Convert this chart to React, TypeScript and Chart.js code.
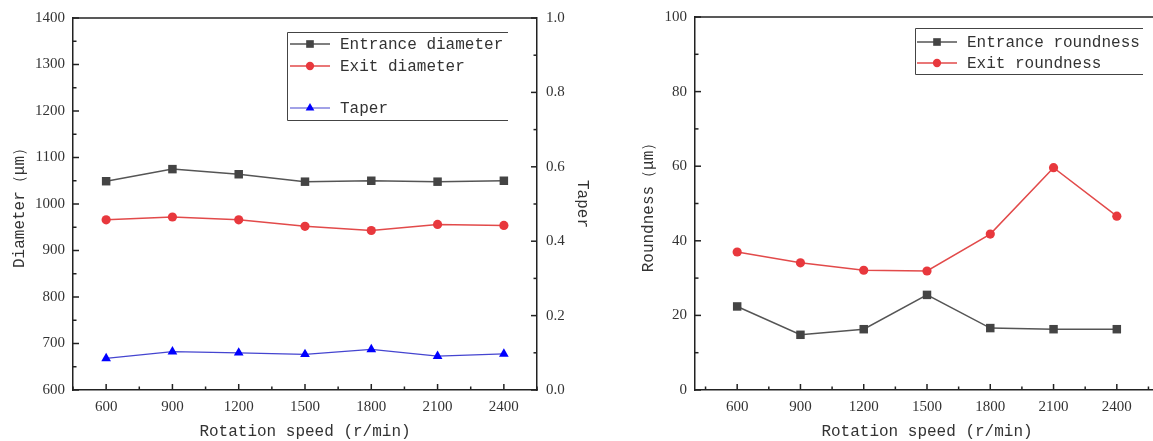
import React, { useEffect, useRef } from 'react';
import { Chart, registerables } from 'chart.js';

Chart.register(...registerables);

// ---------- data ----------
const speeds = [600, 900, 1200, 1500, 1800, 2100, 2400];
const entranceDiameter = [1049, 1075, 1064, 1048, 1050, 1048, 1050];
const exitDiameter = [966, 972, 966, 952, 943, 956, 954];
const taper = [0.085, 0.103, 0.1, 0.096, 0.109, 0.091, 0.097];
const entranceRoundness = [22.4, 14.8, 16.3, 25.5, 16.6, 16.3, 16.3];
const exitRoundness = [37.0, 34.1, 32.1, 31.9, 41.8, 59.6, 46.6];

const speedMinorTicks = [450, 750, 1050, 1350, 1650, 1950, 2250, 2550];
const diameterMinorTicks = [650, 750, 850, 950, 1050, 1150, 1250, 1350];
const taperMinorTicks = [0.1, 0.3, 0.5, 0.7, 0.9];
const roundnessMinorTicks = [10, 30, 50, 70, 90];

const MONO = '"Liberation Mono", "DejaVu Sans Mono", monospace';
const SERIF = '"Liberation Serif", "DejaVu Serif", serif';
const AXIS = '#222';
const TEXT = '#333';

const GRAY_LINE = '#555555';
const GRAY_MARK = '#444444';
const RED_LINE = '#e24a4a';
const RED_MARK = '#e8383d';
const BLUE_LINE = '#4545d0';
const BLUE_MARK = '#0000ff';

function drawMarker(ctx: CanvasRenderingContext2D, style: string, x: number, y: number, r: number, color: string) {
  ctx.fillStyle = color;
  ctx.beginPath();
  if (style === 'rect') {
    const s = r * Math.SQRT1_2;
    ctx.rect(x - s, y - s, 2 * s, 2 * s);
  } else if (style === 'triangle') {
    let rad = 0;
    ctx.moveTo(x + Math.sin(rad) * r, y - Math.cos(rad) * r);
    rad += (2 * Math.PI) / 3;
    ctx.lineTo(x + Math.sin(rad) * r, y - Math.cos(rad) * r);
    rad += (2 * Math.PI) / 3;
    ctx.lineTo(x + Math.sin(rad) * r, y - Math.cos(rad) * r);
    ctx.closePath();
  } else {
    ctx.arc(x, y, r, 0, Math.PI * 2);
  }
  ctx.fill();
}

const frameTicksPlugin = {
  id: 'frameTicks',
  afterDraw(chart: any, _args: any, opts: any) {
    const ctx = chart.ctx as CanvasRenderingContext2D;
    const area = chart.chartArea;
    ctx.save();
    ctx.strokeStyle = AXIS;
    ctx.lineWidth = 1.5;
    ctx.beginPath();
    ctx.moveTo(area.left, area.top);
    ctx.lineTo(area.right, area.top);
    ctx.stroke();
    const items = (opts && opts.items) || [];
    for (const it of items) {
      const scale = chart.scales[it.id];
      if (!scale) continue;
      const draw = (vals: number[], len: number) => {
        for (const v of vals) {
          const p = scale.getPixelForValue(v);
          ctx.beginPath();
          if (scale.position === 'bottom') {
            ctx.moveTo(p, area.bottom);
            ctx.lineTo(p, area.bottom - len);
          } else if (scale.position === 'left') {
            ctx.moveTo(area.left, p);
            ctx.lineTo(area.left + len, p);
          } else {
            ctx.moveTo(area.right, p);
            ctx.lineTo(area.right - len, p);
          }
          ctx.stroke();
        }
      };
      draw(scale.ticks.map((t: any) => t.value), 6);
      draw(it.minor, 3.5);
    }
    ctx.restore();
  },
};

const boxLegendPlugin = {
  id: 'boxLegend',
  afterDraw(chart: any, _args: any, opts: any) {
    if (!opts || !opts.rows) return;
    const ctx = chart.ctx as CanvasRenderingContext2D;
    const { x, y, w, h, rows, lineX0, lineX1, textX } = opts;
    ctx.save();
    ctx.fillStyle = '#ffffff';
    ctx.fillRect(x, y, w, h);
    ctx.strokeStyle = '#444';
    ctx.lineWidth = 1;
    ctx.beginPath();
    ctx.moveTo(x + w, y + 0.5);
    ctx.lineTo(x + 0.5, y + 0.5);
    ctx.lineTo(x + 0.5, y + h + 0.5);
    ctx.lineTo(x + w, y + h + 0.5);
    ctx.stroke();
    chart.data.datasets.forEach((ds: any, i: number) => {
      const ry = rows[i];
      ctx.strokeStyle = ds.borderColor;
      ctx.lineWidth = ds.borderWidth;
      ctx.beginPath();
      ctx.moveTo(lineX0, ry);
      ctx.lineTo(lineX1, ry);
      ctx.stroke();
      drawMarker(ctx, ds.pointStyle, (lineX0 + lineX1) / 2, ry, ds.pointRadius * 0.9, ds.pointBackgroundColor);
      ctx.fillStyle = TEXT;
      ctx.font = `16px ${MONO}`;
      ctx.textBaseline = 'middle';
      ctx.textAlign = 'left';
      ctx.fillText(ds.label, textX, ry + 1);
    });
    ctx.restore();
  },
};

const pts = (ys: number[]) => speeds.map((s, i) => ({ x: s, y: ys[i] }));

function xScale(min: number, max: number) {
  return {
    type: 'linear',
    position: 'bottom',
    min,
    max,
    afterBuildTicks: (s: any) => {
      s.ticks = speeds.map((v) => ({ value: v }));
    },
    afterFit: (s: any) => {
      s.height = 51;
      s.paddingLeft = 0;
      s.paddingRight = 0;
    },
    grid: { display: false, drawTicks: false },
    border: { display: true, color: AXIS, width: 1.5 },
    ticks: {
      padding: 8,
      color: TEXT,
      font: { family: SERIF, size: 15 },
      maxRotation: 0,
      autoSkip: false,
      callback: (v: any) => String(v),
    },
    title: {
      display: true,
      text: 'Rotation speed (r/min)',
      color: TEXT,
      font: { family: MONO, size: 16 },
      padding: { top: 0, bottom: 0 },
    },
  };
}

function leftConfig(): any {
  return {
    type: 'line',
    data: {
      datasets: [
        {
          label: 'Entrance diameter',
          data: pts(entranceDiameter),
          yAxisID: 'y',
          borderColor: GRAY_LINE,
          backgroundColor: GRAY_MARK,
          pointBackgroundColor: GRAY_MARK,
          pointBorderColor: GRAY_MARK,
          pointBorderWidth: 0,
          pointStyle: 'rect',
          pointRadius: 6,
          borderWidth: 1.5,
          tension: 0,
        },
        {
          label: 'Exit diameter',
          data: pts(exitDiameter),
          yAxisID: 'y',
          borderColor: RED_LINE,
          backgroundColor: RED_MARK,
          pointBackgroundColor: RED_MARK,
          pointBorderColor: RED_MARK,
          pointBorderWidth: 0,
          pointStyle: 'circle',
          pointRadius: 4.6,
          borderWidth: 1.5,
          tension: 0,
        },
        {
          label: 'Taper',
          data: pts(taper),
          yAxisID: 'y1',
          borderColor: BLUE_LINE,
          backgroundColor: BLUE_MARK,
          pointBackgroundColor: BLUE_MARK,
          pointBorderColor: BLUE_MARK,
          pointBorderWidth: 0,
          pointStyle: 'triangle',
          pointRadius: 5.6,
          borderWidth: 1.2,
          tension: 0,
        },
      ],
    },
    options: {
      animation: false,
      responsive: false,
      maintainAspectRatio: false,
      layout: { padding: { top: 17, left: 0, right: 0, bottom: 0 } },
      plugins: {
        legend: { display: false },
        tooltip: { enabled: false },
        frameTicks: {
          items: [
            { id: 'x', minor: speedMinorTicks },
            { id: 'y', minor: diameterMinorTicks },
            { id: 'y1', minor: taperMinorTicks },
          ],
        },
        boxLegend: { x: 287, y: 32, w: 221, h: 88, rows: [44, 66, 108], lineX0: 290, lineX1: 330, textX: 340 },
      },
      scales: {
        x: xScale(450, 2550),
        y: {
          type: 'linear',
          position: 'left',
          min: 600,
          max: 1400,
          afterFit: (s: any) => {
            s.width = 73;
          },
          grid: { display: false, drawTicks: false },
          border: { display: true, color: AXIS, width: 1.5 },
          ticks: {
            stepSize: 100,
            padding: 8,
            color: TEXT,
            font: { family: SERIF, size: 15 },
            callback: (v: any) => String(v),
          },
          title: {
            display: true,
            text: 'Diameter（μm）',
            color: TEXT,
            font: { family: MONO, size: 16 },
            padding: { top: 10, bottom: 0 },
          },
        },
        y1: {
          type: 'linear',
          position: 'right',
          min: 0,
          max: 1,
          afterFit: (s: any) => {
            s.width = 63;
          },
          grid: { display: false, drawTicks: false },
          border: { display: true, color: AXIS, width: 1.5 },
          ticks: {
            stepSize: 0.2,
            padding: 9,
            color: TEXT,
            font: { family: SERIF, size: 15 },
            callback: (v: any) => Number(v).toFixed(1),
          },
          title: {
            display: true,
            text: 'Taper',
            color: TEXT,
            font: { family: MONO, size: 16 },
            padding: { top: 8, bottom: 0 },
          },
        },
      },
    },
    plugins: [frameTicksPlugin, boxLegendPlugin],
  };
}

function rightConfig(): any {
  return {
    type: 'line',
    data: {
      datasets: [
        {
          label: 'Entrance roundness',
          data: pts(entranceRoundness),
          yAxisID: 'y',
          borderColor: GRAY_LINE,
          backgroundColor: GRAY_MARK,
          pointBackgroundColor: GRAY_MARK,
          pointBorderColor: GRAY_MARK,
          pointBorderWidth: 0,
          pointStyle: 'rect',
          pointRadius: 6,
          borderWidth: 1.5,
          tension: 0,
        },
        {
          label: 'Exit roundness',
          data: pts(exitRoundness),
          yAxisID: 'y',
          borderColor: RED_LINE,
          backgroundColor: RED_MARK,
          pointBackgroundColor: RED_MARK,
          pointBorderColor: RED_MARK,
          pointBorderWidth: 0,
          pointStyle: 'circle',
          pointRadius: 4.6,
          borderWidth: 1.5,
          tension: 0,
        },
      ],
    },
    options: {
      animation: false,
      responsive: false,
      maintainAspectRatio: false,
      layout: { padding: { top: 17, left: 0, right: 41, bottom: 0 } },
      plugins: {
        legend: { display: false },
        tooltip: { enabled: false },
        frameTicks: {
          items: [
            { id: 'x', minor: speedMinorTicks },
            { id: 'y', minor: roundnessMinorTicks },
          ],
        },
        boxLegend: { x: 315, y: 28, w: 228, h: 46, rows: [42, 63], lineX0: 317, lineX1: 357, textX: 367 },
      },
      scales: {
        x: xScale(400, 2600),
        y: {
          type: 'linear',
          position: 'left',
          min: 0,
          max: 100,
          afterFit: (s: any) => {
            s.width = 95;
          },
          grid: { display: false, drawTicks: false },
          border: { display: true, color: AXIS, width: 1.5 },
          ticks: {
            stepSize: 20,
            padding: 8,
            color: TEXT,
            font: { family: SERIF, size: 15 },
            callback: (v: any) => String(v),
          },
          title: {
            display: true,
            text: 'Roundness（μm）',
            color: TEXT,
            font: { family: MONO, size: 16 },
            padding: { top: 39, bottom: 0 },
          },
        },
      },
    },
    plugins: [frameTicksPlugin, boxLegendPlugin],
  };
}

function ChartCanvas({ makeConfig, width, height }: { makeConfig: () => any; width: number; height: number }) {
  const ref = useRef<HTMLCanvasElement | null>(null);
  useEffect(() => {
    if (!ref.current) return;
    const chart = new Chart(ref.current, makeConfig());
    return () => chart.destroy();
  }, []);
  return <canvas ref={ref} width={width} height={height} style={{ display: 'block', width, height }} />;
}

export default function App() {
  return (
    <div
      style={{
        position: 'fixed',
        left: 0,
        top: 0,
        width: 1153,
        height: 441,
        overflow: 'hidden',
        background: '#ffffff',
      }}
    >
      <div style={{ position: 'absolute', left: 0, top: 0, width: 600, height: 441 }}>
        <ChartCanvas makeConfig={leftConfig} width={600} height={441} />
      </div>
      <div style={{ position: 'absolute', left: 600, top: 0, width: 600, height: 441 }}>
        <ChartCanvas makeConfig={rightConfig} width={600} height={441} />
      </div>
    </div>
  );
}
